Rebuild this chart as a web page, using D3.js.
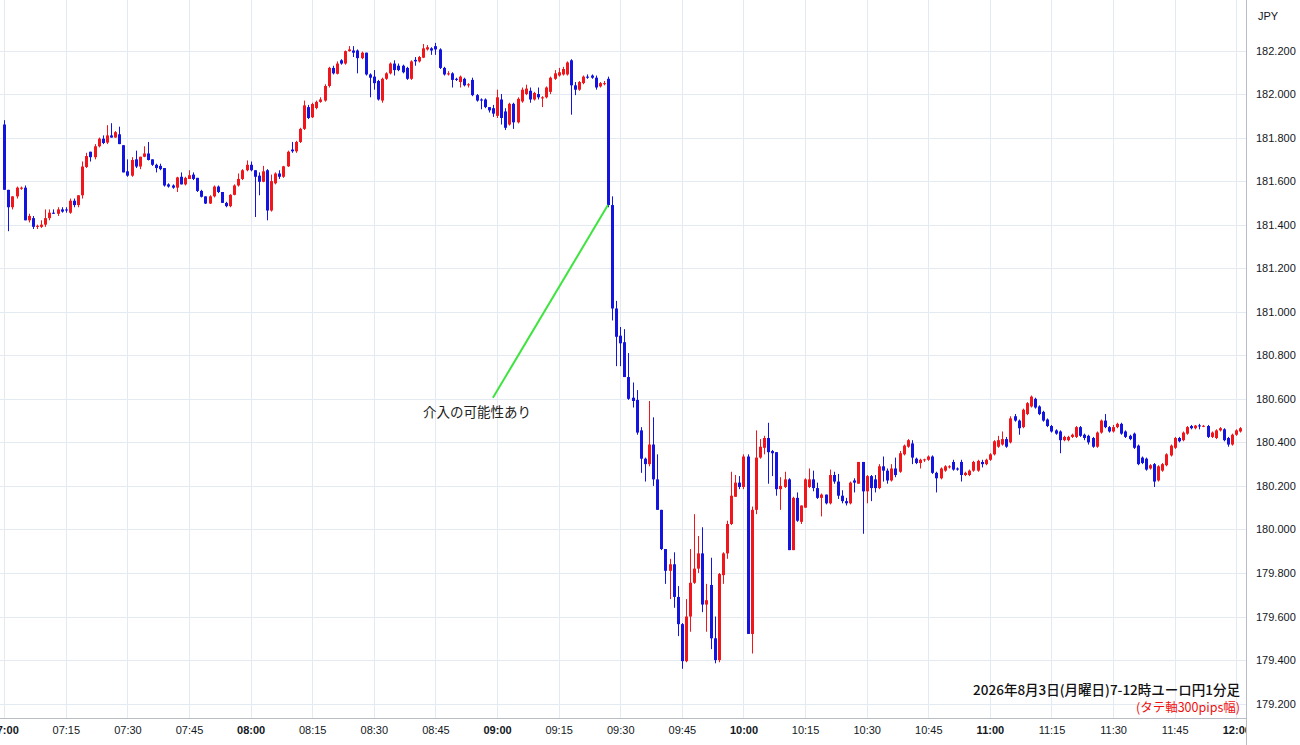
<!DOCTYPE html>
<html><head><meta charset="utf-8">
<script src="https://cdn.jsdelivr.net/npm/d3@7"></script>
<style>body{margin:0;background:#fff;}svg{display:block}</style>
</head><body><svg id="c" width="1300" height="745"></svg>
<script>
const startTime = "07:00";
const opens = [
181.86,181.56,181.48,181.53,181.565,181.57,181.42,181.43,181.39,181.39,
181.40,181.43,181.455,181.45,181.47,181.47,181.455,181.51,181.49,181.535,
181.665,181.735,181.71,181.76,181.795,181.777,181.81,181.80,181.815,181.765,
181.645,181.625,181.70,181.667,181.712,181.727,181.70,181.675,181.67,181.66,
181.585,181.58,181.57,181.62,181.585,181.61,181.63,181.615,181.555,181.53,
181.497,181.53,181.575,181.55,181.50,181.485,181.537,181.58,181.61,181.65,
181.675,181.65,181.625,181.597,181.65,181.465,181.59,181.635,181.62,181.668,
181.745,181.737,181.78,181.84,181.94,181.893,181.936,181.964,181.97,182.037,
182.12,182.093,182.155,182.14,182.197,182.20,182.20,182.165,182.19,182.09,
182.08,182.06,181.97,182.07,182.095,182.14,182.13,182.13,182.12,182.07,
182.157,182.15,182.167,182.205,182.21,182.22,182.205,182.12,182.09,182.095,
182.07,182.055,182.07,182.04,182.065,181.995,181.975,181.975,181.94,181.935,
181.90,181.975,181.92,181.86,181.955,181.87,181.966,182.0,182.015,181.975,
182.0,181.98,181.985,182.01,182.07,182.085,182.09,182.09,182.155,182.04,
182.02,182.05,182.08,182.085,182.075,182.035,182.045,182.07,181.49,181.015,
180.89,180.86,180.70,180.605,180.595,180.455,180.325,180.30,180.39,180.23,
180.09,179.91,179.81,179.84,179.69,179.565,179.395,179.60,179.755,179.82,
179.89,179.655,179.745,179.50,179.40,179.79,179.89,180.025,180.15,180.215,
180.195,180.335,179.52,180.09,180.33,180.375,180.42,180.36,180.355,180.185,
180.195,180.23,179.905,180.145,180.035,180.10,180.195,180.23,180.19,180.145,
180.16,180.12,180.25,180.22,180.155,180.13,180.12,180.225,180.21,180.31,
180.175,180.245,180.23,180.19,180.29,180.27,180.225,180.28,180.265,180.345,
180.38,180.395,180.325,180.305,180.318,180.32,180.335,180.26,180.235,180.27,
180.285,180.31,180.28,180.31,180.25,180.25,180.27,180.27,180.31,180.30,
180.32,180.345,180.38,180.39,180.415,180.40,180.52,180.50,180.47,180.53,
180.565,180.60,180.565,180.54,180.505,180.475,180.455,180.45,180.41,180.41,
180.425,180.425,180.47,180.435,180.43,180.42,180.38,180.445,180.50,180.47,
180.45,180.47,180.485,180.45,180.43,180.44,180.385,180.33,180.325,180.28,
180.30,180.225,180.27,180.295,180.34,180.375,180.42,180.41,180.44,180.475,
180.465,180.478,180.473,180.475,180.425,180.42,180.455,180.46,180.42,180.39,
180.435,180.45];
const highs = [
181.88,181.56,181.53,181.575,181.575,181.58,181.45,181.44,181.40,181.42,
181.47,181.47,181.47,181.48,181.48,181.48,181.52,181.52,181.535,181.69,
181.73,181.735,181.77,181.80,181.81,181.857,181.866,181.83,181.85,181.765,
181.70,181.71,181.74,181.712,181.76,181.78,181.70,181.68,181.68,181.66,
181.59,181.585,181.62,181.64,181.62,181.65,181.64,181.615,181.56,181.53,
181.535,181.58,181.58,181.55,181.505,181.54,181.585,181.635,181.655,181.695,
181.69,181.65,181.64,181.67,181.655,181.63,181.64,181.65,181.67,181.74,
181.78,181.785,181.845,181.97,181.95,181.96,181.97,181.985,182.045,182.125,
182.13,182.15,182.16,182.20,182.22,182.22,182.205,182.195,182.19,182.095,
182.11,182.065,182.075,182.10,182.145,182.155,182.14,182.135,182.125,182.155,
182.17,182.175,182.23,182.225,182.215,182.235,182.21,182.125,182.105,182.10,
182.075,182.085,182.075,182.05,182.075,182.0,181.98,181.98,181.94,181.95,
182.02,182.0,181.935,181.96,181.96,181.985,182.03,182.043,182.03,182.01,
182.03,181.99,182.035,182.08,182.11,182.12,182.125,182.15,182.16,182.055,
182.06,182.085,182.09,182.09,182.085,182.055,182.06,182.08,181.53,181.05,
180.93,180.92,180.81,180.675,180.64,180.47,180.33,180.59,180.515,180.345,
180.09,179.91,179.865,179.895,179.74,179.57,179.68,179.91,180.07,179.97,
180.01,179.75,179.87,179.60,179.80,179.895,180.04,180.265,180.25,180.245,
180.345,180.345,180.105,180.455,180.415,180.43,180.49,180.365,180.355,180.24,
180.265,180.235,180.15,180.17,180.11,180.235,180.28,180.27,180.215,180.165,
180.16,180.275,180.265,180.255,180.18,180.145,180.22,180.235,180.31,180.31,
180.25,180.25,180.25,180.30,180.335,180.28,180.30,180.33,180.36,180.39,
180.415,180.41,180.33,180.325,180.325,180.34,180.34,180.265,180.285,180.295,
180.295,180.32,180.285,180.32,180.265,180.275,180.315,180.32,180.32,180.325,
180.35,180.41,180.43,180.45,180.425,180.52,180.53,180.505,180.555,180.585,
180.615,180.605,180.57,180.545,180.51,180.48,180.46,180.455,180.43,180.43,
180.44,180.475,180.475,180.44,180.435,180.425,180.45,180.505,180.53,180.475,
180.48,180.49,180.49,180.455,180.435,180.445,180.39,180.335,180.33,180.30,
180.305,180.295,180.305,180.35,180.39,180.425,180.425,180.45,180.475,180.48,
180.48,180.485,180.48,180.48,180.45,180.46,180.47,180.465,180.425,180.44,
180.46,180.47];
const lows = [
181.56,181.37,181.47,181.52,181.56,181.42,181.41,181.38,181.38,181.385,
181.39,181.42,181.45,181.44,181.455,181.455,181.45,181.48,181.48,181.52,
181.66,181.69,181.70,181.755,181.77,181.77,181.80,181.80,181.77,181.64,
181.62,181.62,181.66,181.655,181.71,181.695,181.67,181.64,181.65,181.575,
181.57,181.565,181.55,181.585,181.58,181.61,181.605,181.55,181.525,181.495,
181.495,181.525,181.545,181.50,181.48,181.48,181.535,181.575,181.605,181.645,
181.645,181.435,181.535,181.595,181.42,181.46,181.585,181.61,181.615,181.665,
181.73,181.73,181.775,181.835,181.885,181.89,181.93,181.96,181.965,182.03,
182.09,182.09,182.135,182.135,182.195,182.17,182.095,182.16,182.085,181.985,
182.02,181.97,181.96,182.065,182.09,182.085,182.105,182.095,182.065,182.065,
182.13,182.145,182.165,182.20,182.18,182.18,182.115,182.085,182.085,182.03,
182.06,182.03,182.035,182.03,181.99,181.965,181.93,181.935,181.915,181.895,
181.89,181.86,181.835,181.855,181.84,181.865,181.96,181.995,181.96,181.97,
181.975,181.94,181.98,182.0,182.065,182.08,182.085,182.085,181.905,181.995,
182.015,182.045,182.07,182.07,182.02,182.03,182.04,181.48,180.96,180.75,
180.75,180.70,180.595,180.56,180.435,180.26,180.22,180.29,180.20,180.09,
179.905,179.75,179.68,179.64,179.51,179.36,179.39,179.53,179.75,179.80,
179.62,179.53,179.45,179.385,179.39,179.75,179.865,180.02,180.15,180.185,
180.185,179.52,179.43,180.07,180.325,180.345,180.21,180.245,180.155,180.09,
180.19,179.905,179.905,180.035,180.025,180.10,180.19,180.175,180.14,180.06,
180.115,180.115,180.21,180.14,180.12,180.11,180.115,180.17,180.21,179.98,
180.12,180.13,180.17,180.185,180.22,180.21,180.22,180.24,180.26,180.34,
180.375,180.30,180.30,180.28,180.31,180.315,180.255,180.17,180.23,180.265,
180.28,180.27,180.27,180.22,180.245,180.245,180.265,180.265,180.285,180.295,
180.315,180.34,180.375,180.385,180.375,180.395,180.495,180.435,180.465,180.525,
180.56,180.555,180.525,180.495,180.47,180.445,180.435,180.35,180.405,180.405,
180.42,180.42,180.425,180.41,180.39,180.375,180.375,180.44,180.465,180.445,
180.445,180.465,180.435,180.42,180.41,180.37,180.295,180.30,180.27,180.275,
180.195,180.22,180.265,180.29,180.335,180.37,180.40,180.405,180.435,180.46,
180.46,180.46,180.47,180.42,180.42,180.415,180.45,180.405,180.38,180.385,
180.43,180.445];
const closes = [
181.56,181.48,181.53,181.57,181.57,181.42,181.44,181.39,181.395,181.40,
181.43,181.455,181.45,181.47,181.46,181.465,181.51,181.49,181.535,181.667,
181.715,181.71,181.76,181.795,181.775,181.81,181.80,181.825,181.77,181.64,
181.625,181.697,181.667,181.712,181.727,181.697,181.675,181.66,181.655,181.58,
181.575,181.57,181.617,181.585,181.615,181.627,181.61,181.555,181.528,181.497,
181.53,181.575,181.55,181.50,181.485,181.537,181.58,181.61,181.65,181.675,
181.65,181.62,181.597,181.645,181.465,181.60,181.635,181.62,181.668,181.735,
181.737,181.78,181.84,181.948,181.89,181.954,181.964,181.975,182.037,182.12,
182.095,182.14,182.14,182.197,182.205,182.19,182.165,182.19,182.09,182.075,
182.05,181.975,182.07,182.095,182.14,182.11,182.11,182.10,182.07,182.15,
182.15,182.17,182.21,182.215,182.20,182.205,182.12,182.09,182.095,182.065,
182.065,182.08,182.04,182.045,181.995,181.97,181.97,181.94,181.925,181.91,
181.985,181.89,181.845,181.955,181.87,181.978,182.02,182.025,181.975,182.005,
181.985,181.985,182.03,182.075,182.095,182.10,182.115,182.145,182.04,182.02,
182.055,182.08,182.075,182.075,182.03,182.05,182.05,181.49,181.015,180.885,
180.855,180.70,180.60,180.59,180.445,180.325,180.30,180.39,180.23,180.09,
179.91,179.81,179.84,179.69,179.565,179.395,179.60,179.755,179.82,179.89,
179.655,179.675,179.50,179.40,179.795,179.89,180.025,180.155,180.215,180.195,
180.335,179.52,180.09,180.33,180.38,180.42,180.355,180.35,180.185,180.20,
180.23,179.905,180.145,180.04,180.11,180.23,180.23,180.19,180.145,180.16,
180.12,180.25,180.22,180.155,180.13,180.12,180.215,180.215,180.31,180.175,
180.245,180.19,180.19,180.29,180.27,180.225,180.28,180.25,180.35,180.385,
180.41,180.33,180.305,180.32,180.322,180.335,180.26,180.235,180.28,180.29,
180.29,180.275,180.275,180.25,180.26,180.27,180.31,180.315,180.30,180.32,
180.345,180.405,180.41,180.415,180.38,180.51,180.50,180.465,180.55,180.58,
180.61,180.56,180.53,180.50,180.475,180.45,180.44,180.41,180.425,180.425,
180.435,180.47,180.43,180.42,180.40,180.38,180.445,180.50,180.47,180.45,
180.47,180.485,180.44,180.425,180.415,180.375,180.30,180.305,180.275,180.295,
180.22,180.29,180.30,180.345,180.385,180.42,180.405,180.445,180.47,180.465,
180.477,180.473,180.476,180.425,180.445,180.455,180.465,180.41,180.39,180.435,
180.455,180.465];
const priceTicks = [179.2,179.4,179.6,179.8,180.0,180.2,180.4,180.6,180.8,181.0,181.2,181.4,181.6,181.8,182.0,182.2];
const timeTicks = ["07:00","07:15","07:30","07:45","08:00","08:15","08:30","08:45","09:00","09:15","09:30","09:45","10:00","10:15","10:30","10:45","11:00","11:15","11:30","11:45","12:00"];
const currencyLabel = "JPY";
const titleText = "2026年8月3日(月曜日)7-12時ユーロ円1分足";
const noteText = "(タテ軸300pips幅)";
const annotationText = "介入の可能性あり";
const annotationFrom = {time: "08:59", price: 180.605};
const annotationTo = {time: "09:27", price: 181.49};

const W = 1300, H = 745;
const plotRight = 1246, axisY = 718;
const parse = d3.timeParse("%H:%M");
const t0 = parse(startTime);
const n = Math.min(opens.length, highs.length, lows.length, closes.length);
const data = d3.range(n).map(i => ({t: d3.timeMinute.offset(t0, i), o: opens[i], h: highs[i], l: lows[i], c: closes[i]}));

const x = d3.scaleTime().domain([parse("07:00"), parse("12:00")]).range([4.2, 1236.3]);
const y = d3.scaleLinear().domain([179.2, 182.2]).range([703.6, 50.5]);

const svg = d3.select("#c");
svg.append("rect").attr("width", W).attr("height", H).attr("fill", "#fff");
svg.append("defs").append("clipPath").attr("id", "plotclip")
  .append("rect").attr("x", 0).attr("y", 0).attr("width", plotRight).attr("height", H);

const grid = svg.append("g").attr("clip-path", "url(#plotclip)");
grid.selectAll("line.v").data(timeTicks).enter().append("line")
  .attr("x1", d => Math.round(x(parse(d))) + 0.5).attr("x2", d => Math.round(x(parse(d))) + 0.5)
  .attr("y1", 0).attr("y2", axisY).attr("stroke", "#e4eaf1").attr("stroke-width", 1);
grid.selectAll("line.h").data(priceTicks).enter().append("line")
  .attr("x1", 0).attr("x2", plotRight)
  .attr("y1", d => Math.round(y(d)) + 0.5).attr("y2", d => Math.round(y(d)) + 0.5)
  .attr("stroke", "#e4eaf1").attr("stroke-width", 1);

const UP = "#f0161c", DOWN = "#1414e0";
const cg = svg.append("g").attr("clip-path", "url(#plotclip)");
const bw = 3;
cg.selectAll("line.w").data(data).enter().append("line")
  .attr("x1", d => Math.round(x(d.t)) + 0.5).attr("x2", d => Math.round(x(d.t)) + 0.5)
  .attr("y1", d => y(Math.max(d.h, d.o, d.c))).attr("y2", d => y(Math.min(d.l, d.o, d.c)))
  .attr("stroke", d => d.c >= d.o ? UP : DOWN).attr("stroke-width", 1);
cg.selectAll("rect.b").data(data).enter().append("rect")
  .attr("x", d => Math.round(x(d.t)) + 0.5 - bw / 2)
  .attr("y", d => y(Math.max(d.o, d.c)))
  .attr("width", bw)
  .attr("height", d => Math.max(1, Math.abs(y(d.o) - y(d.c))))
  .attr("fill", d => d.c >= d.o ? UP : DOWN);

// axes
const xAxis = d3.axisBottom(x).tickValues(timeTicks.map(parse)).tickFormat(d3.timeFormat("%H:%M")).tickSize(0).tickPadding(8);
const gx = svg.append("g").attr("transform", `translate(0,${axisY})`).attr("clip-path", "url(#plotclip)").call(xAxis);
gx.select(".domain").remove();
gx.selectAll("text").attr("font-family", "'Liberation Sans', Arial, sans-serif").attr("font-size", 11).attr("fill", "#131722")
  .attr("font-weight", d => d.getMinutes() === 0 ? "bold" : "normal");

const yAxis = d3.axisRight(y).tickValues(priceTicks).tickFormat(d3.format(".3f")).tickSize(0).tickPadding(10);
const gy = svg.append("g").attr("transform", `translate(${plotRight},0)`).call(yAxis);
gy.select(".domain").remove();
gy.selectAll("text").attr("font-family", "'Liberation Sans', Arial, sans-serif").attr("font-size", 11).attr("fill", "#131722");

svg.append("line").attr("x1", 0).attr("x2", plotRight).attr("y1", axisY + 0.5).attr("y2", axisY + 0.5).attr("stroke", "#b8bcc4");
svg.append("line").attr("x1", plotRight + 0.5).attr("x2", plotRight + 0.5).attr("y1", 0).attr("y2", H).attr("stroke", "#b8bcc4");

svg.append("text").attr("x", 1258).attr("y", 20).text(currencyLabel)
  .attr("font-family", "'Liberation Sans', Arial, sans-serif").attr("font-size", 11).attr("fill", "#131722");

// annotation
svg.append("line")
  .attr("x1", x(parse(annotationFrom.time))).attr("y1", y(annotationFrom.price))
  .attr("x2", x(parse(annotationTo.time))).attr("y2", y(annotationTo.price))
  .attr("stroke", "#3ee43e").attr("stroke-width", 2);
svg.append("text").attr("x", x(parse(annotationFrom.time)) - 16).attr("y", y(annotationFrom.price) + 19)
  .attr("text-anchor", "middle").text(annotationText)
  .attr("font-family", "'Noto Sans CJK JP', sans-serif").attr("font-size", 13.5).attr("fill", "#222");

svg.append("text").attr("x", 1240).attr("y", 695).attr("text-anchor", "end").text(titleText)
  .attr("font-family", "'Noto Sans CJK JP', sans-serif").attr("font-size", 13.5).attr("font-weight", 500).attr("fill", "#111");
svg.append("text").attr("x", 1240).attr("y", 712).attr("text-anchor", "end").text(noteText)
  .attr("font-family", "'Noto Sans CJK JP', sans-serif").attr("font-size", 12.5).attr("fill", "#ee1111");
</script></body></html>
